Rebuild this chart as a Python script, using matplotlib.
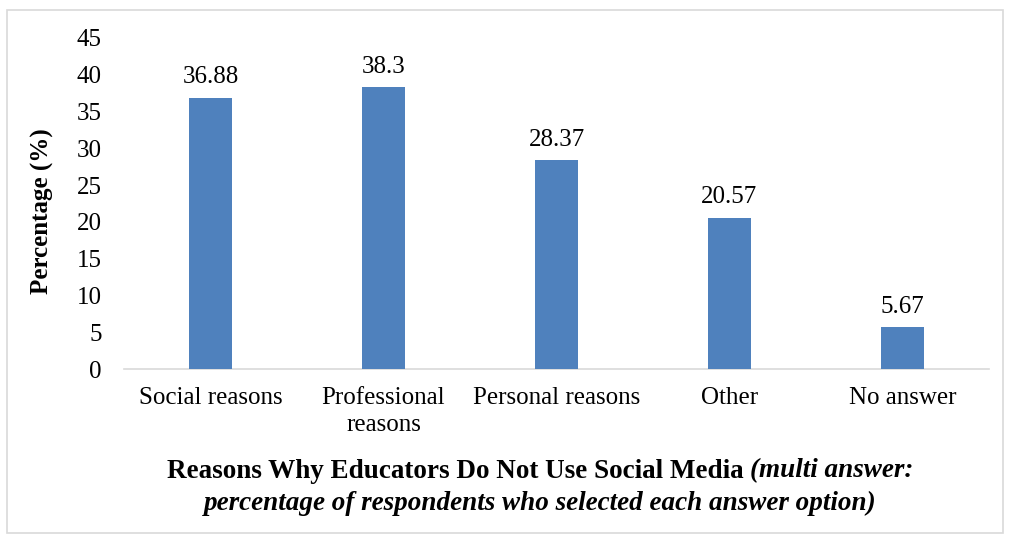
import matplotlib
matplotlib.use("Agg")
import matplotlib.pyplot as plt
from matplotlib.patches import Rectangle

categories = ["Social reasons", "Professional\nreasons", "Personal reasons", "Other", "No answer"]
values = [36.88, 38.3, 28.37, 20.57, 5.67]
value_labels = ["36.88", "38.3", "28.37", "20.57", "5.67"]
yticks = [0, 5, 10, 15, 20, 25, 30, 35, 40, 45]

plt.rcParams['font.family'] = ['Liberation Serif', 'DejaVu Serif']

W, H = 1009, 535
FS = 18
fig = plt.figure(figsize=(W/100, H/100), dpi=100)
ax = fig.add_axes([124/W, 1-369/H, (989-124)/W, (369-38)/H])

x = list(range(len(categories)))
ax.bar(x, values, width=0.249, color="#4F81BD", zorder=3)
ax.set_xlim(-0.5, len(categories)-0.5)
ax.set_ylim(0, 45)
ax.set_yticks(yticks)
ax.set_yticklabels([str(t) for t in yticks], fontsize=FS)
ax.set_xticks(x)
ax.set_xticklabels(categories, fontsize=FS, linespacing=1.3)
ax.tick_params(axis='both', length=0)
ax.tick_params(axis='y', pad=16)
ax.tick_params(axis='x', pad=13)
for s in ["top", "right", "left"]:
    ax.spines[s].set_visible(False)
ax.spines["bottom"].set_color("#d9d9d9")
ax.spines["bottom"].set_linewidth(1.2)

for xi, v, lab in zip(x, values, value_labels):
    ax.annotate(lab, (xi, v), xytext=(0, 7), textcoords="offset points",
                ha="center", va="bottom", fontsize=FS)

fig.text(42/W, 1-211/H, "Percentage (%)", rotation=90, ha="center", va="center",
         fontsize=FS, fontweight="bold")

# Title with mixed styles
TFS = 19.5
fig.canvas.draw()
r = fig.canvas.get_renderer()
part1 = "Reasons Why Educators Do Not Use Social Media "
part2 = "(multi answer:"
t1 = fig.text(0, 1-471/H, part1, fontsize=TFS, fontweight="bold", va="center")
t2 = fig.text(0, 1-471/H, part2, fontsize=TFS, fontweight="bold", fontstyle="italic", va="center")
w1 = t1.get_window_extent(r).width
w2 = t2.get_window_extent(r).width
cx = 540
start = cx - (w1 + w2)/2
t1.set_x(start/W)
t2.set_x((start + w1)/W)
fig.text(cx/W, 1-503/H, "percentage of respondents who selected each answer option)",
         fontsize=TFS, fontweight="bold", fontstyle="italic", ha="center", va="center")

fig.patches.append(Rectangle((7/W, 1-533/H), (1003-7)/W, (533-10)/H, transform=fig.transFigure,
                             fill=False, edgecolor="#d9d9d9", linewidth=1.2))

fig.savefig("out.png", dpi=100)
